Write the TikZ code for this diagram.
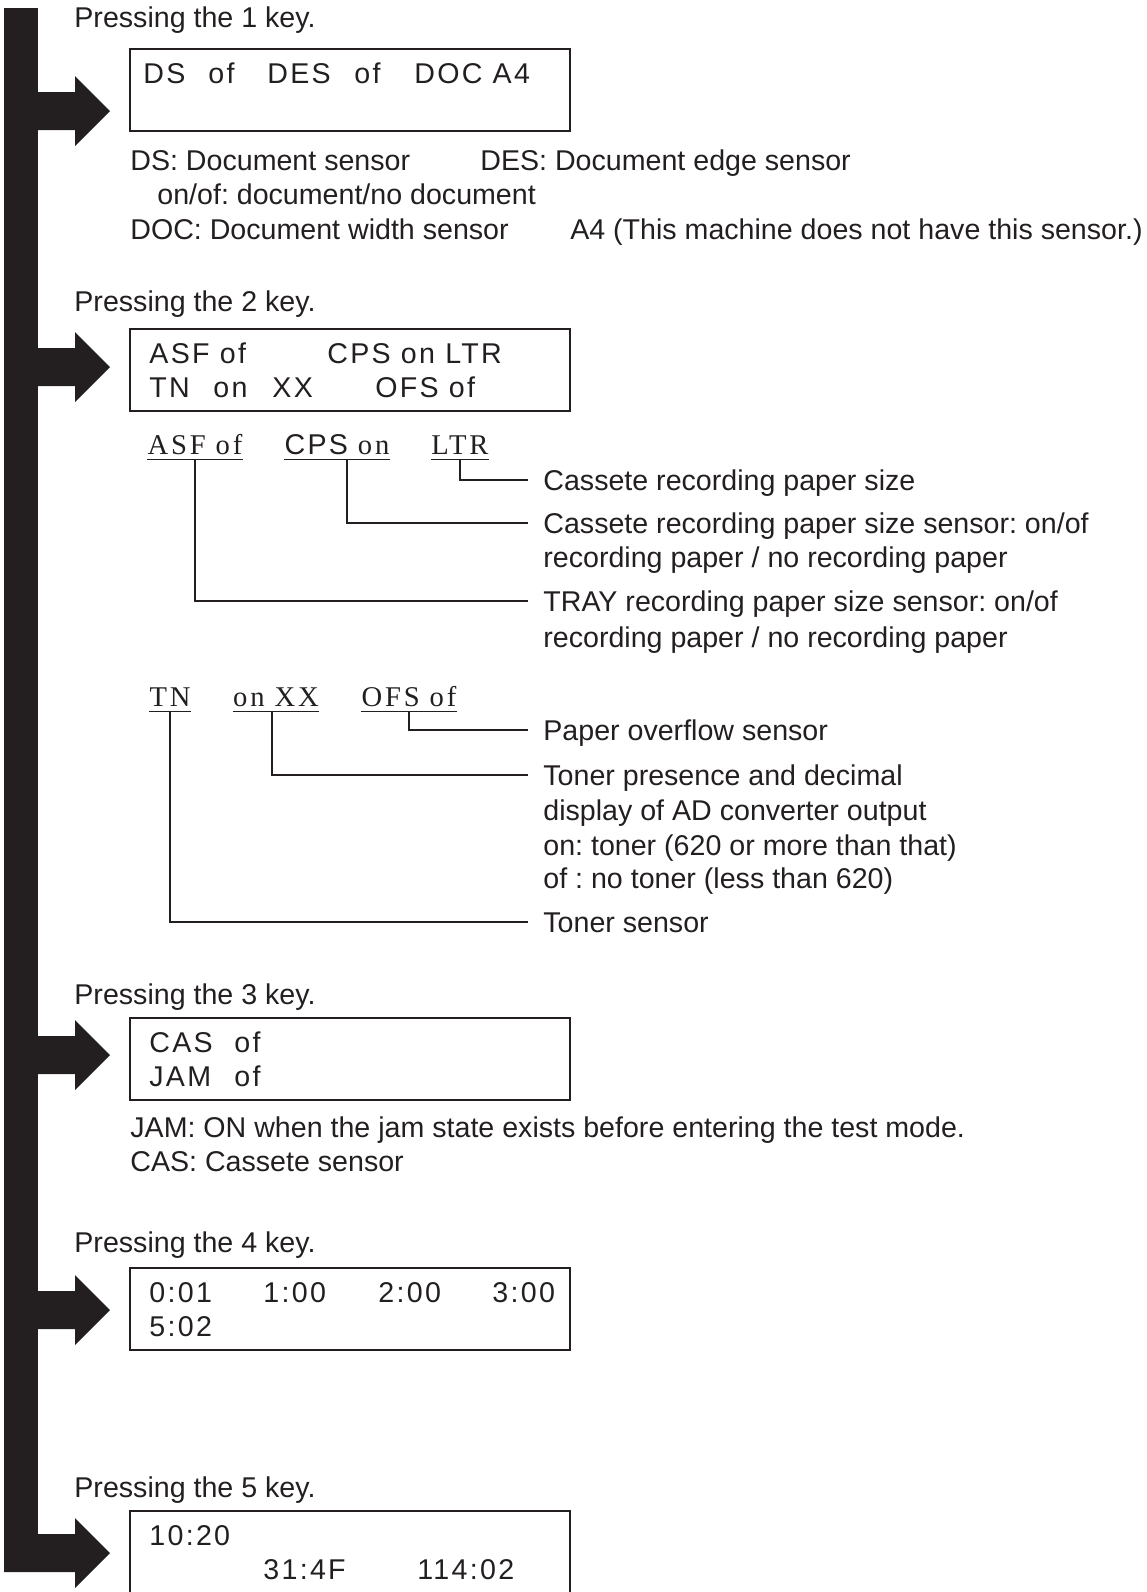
\documentclass[tikz,border=0pt]{standalone}
\usepackage{fontspec}
\setmainfont{Liberation Sans}
\newfontfamily\lcdfont[LetterSpace=8]{Liberation Sans}
\newfontfamily\serfont[LetterSpace=10]{Liberation Serif}
\definecolor{ink}{RGB}{35,31,32}
\frenchspacing

\begin{document}
\begin{tikzpicture}[x=0.5pt,y=-0.5pt,
  every node/.style={text=ink,font=\fontsize{14.3}{17}\selectfont,
    text height=10pt,text depth=0pt},
  txt/.style={anchor=west,inner sep=0pt},
  lcd/.style={anchor=west,inner sep=0pt,
    font=\fontsize{14.3}{17}\selectfont\lcdfont},
  panel/.style={draw=ink,line width=0.9pt,anchor=north west,
    minimum width=220pt,minimum height=41pt,inner sep=0pt},
  ul/.style={inner xsep=0pt,inner ysep=2.5pt,
    font=\fontsize{14.3}{17}\selectfont\serfont},
  lead/.style={draw=ink,line width=0.55pt},
  lbl/.style={anchor=west,inner xsep=7.5pt,inner ysep=0pt}]
  \useasboundingbox (0,0) rectangle (1147,1592);

  % Key bar and arrows
  \fill[ink] (4,8) rectangle (38,1572);
  \fill[ink] (37,92) -- (75,92) -- (75,76) -- (110,111) -- (75,146) -- (75,130) -- (37,130) -- cycle;
  \fill[ink] (37,348) -- (75,348) -- (75,332) -- (110,367) -- (75,402) -- (75,386) -- (37,386) -- cycle;
  \fill[ink] (37,1036) -- (75,1036) -- (75,1020) -- (110,1055) -- (75,1090) -- (75,1074) -- (37,1074) -- cycle;
  \fill[ink] (37,1291) -- (75,1291) -- (75,1275) -- (110,1310) -- (75,1345) -- (75,1329) -- (37,1329) -- cycle;
  \fill[ink] (4,1534) -- (75,1534) -- (75,1518) -- (110,1553) -- (75,1588) -- (75,1572) -- (4,1572) -- cycle;

  % 1 key
  \node[txt] (k1) at (74,17) {Pressing the 1 key.};
  \node[panel] (p1) at (129,48) {};
  \node[lcd] (p1a) at (143,73) {DS};
  \node[lcd] (p1b) at (208,73) {of};
  \node[lcd] (p1c) at (267,73) {DES};
  \node[lcd] (p1d) at (354,73) {of};
  \node[lcd] (p1e) at (414,73) {DOC A4};
  \node[txt] (n1a) at (130,160) {DS: Document sensor};
  \node[txt] (n1b) at (480,160) {DES: Document edge sensor};
  \node[txt] (n1c) at (157,194) {on/of: document/no document};
  \node[txt] (n1d) at (130,229) {DOC: Document width sensor};
  \node[txt,anchor=east] (n1e) at (1143,229) {A4 (This machine does not have this sensor.)};

  % 2 key
  \node[txt] (k2) at (74,301) {Pressing the 2 key.};
  \node[panel] (p2) at (129,328) {};
  \node[lcd] (p2a) at (149,353) {ASF of};
  \node[lcd] (p2b) at (327,353) {CPS on LTR};
  \node[lcd] (p2c) at (149,387) {TN};
  \node[lcd] (p2d) at (213,387) {on};
  \node[lcd] (p2e) at (272,387) {XX};
  \node[lcd] (p2f) at (375,387) {OFS of};

  % upper line explained
  \node[ul] (asf) at (195,444) {ASF of};
  \node[ul] (cps) at (337,444) {{\lcdfont CPS} on};
  \node[ul] (ltr) at (460,444) {LTR};
  \draw[lead] (asf.south west) -- (asf.south east);
  \draw[lead] (cps.south west) -- (cps.south east);
  \draw[lead] (ltr.south west) -- (ltr.south east);
  \node[lbl] (e1) at (528,480) {Cassete recording paper size};
  \node[lbl] (e2) at (528,523) {Cassete recording paper size sensor: on/of};
  \node[txt] (e2b) at (543,557) {recording paper / no recording paper};
  \node[lbl] (e3) at (528,601) {TRAY recording paper size sensor: on/of};
  \node[txt] (e3b) at (543,637) {recording paper / no recording paper};
  \draw[lead] (ltr.south) |- (e1.west);
  \draw[lead] ([xshift=5pt]cps.south) |- (e2.west);
  \draw[lead] (asf.south) |- (e3.west);

  % lower line explained
  \node[ul] (tn) at (170,696) {TN};
  \node[ul] (onxx) at (276,696) {on XX};
  \node[ul] (ofs) at (409,696) {OFS of};
  \draw[lead] (tn.south west) -- (tn.south east);
  \draw[lead] (onxx.south west) -- (onxx.south east);
  \draw[lead] (ofs.south west) -- (ofs.south east);
  \node[lbl] (e4) at (528,730) {Paper overflow sensor};
  \node[lbl] (e5) at (528,775) {Toner presence and decimal};
  \node[txt] (e5b) at (543,810) {display of AD converter output};
  \node[txt] (e5c) at (543,845) {on: toner (620 or more than that)};
  \node[txt] (e5d) at (543,878) {of : no toner (less than 620)};
  \node[lbl] (e6) at (528,922) {Toner sensor};
  \draw[lead] (ofs.south) |- (e4.west);
  \draw[lead] ([xshift=-2pt]onxx.south) |- (e5.west);
  \draw[lead] (tn.south) |- (e6.west);

  % 3 key
  \node[txt] (k3) at (74,994) {Pressing the 3 key.};
  \node[panel] (p3) at (129,1017) {};
  \node[lcd] (p3a) at (149,1042) {CAS};
  \node[lcd] (p3b) at (234,1042) {of};
  \node[lcd] (p3c) at (149,1076) {JAM};
  \node[lcd] (p3d) at (234,1076) {of};
  \node[txt] (n3a) at (130,1127) {JAM: ON when the jam state exists before entering the test mode.};
  \node[txt] (n3b) at (130,1161) {CAS: Cassete sensor};

  % 4 key
  \node[txt] (k4) at (74,1242) {Pressing the 4 key.};
  \node[panel] (p4) at (129,1267) {};
  \node[lcd] (p4a) at (149,1292) {0:01};
  \node[lcd] (p4b) at (263,1292) {1:00};
  \node[lcd] (p4c) at (378,1292) {2:00};
  \node[lcd] (p4d) at (492,1292) {3:00};
  \node[lcd] (p4e) at (149,1326) {5:02};

  % 5 key
  \node[txt] (k5) at (74,1487) {Pressing the 5 key.};
  \node[panel,minimum height=60pt] (p5) at (129,1510) {};
  \node[lcd] (p5a) at (149,1535) {10:20};
  \node[lcd] (p5b) at (263,1569) {31:4F};
  \node[lcd] (p5c) at (417,1569) {114:02};
\end{tikzpicture}
\end{document}
